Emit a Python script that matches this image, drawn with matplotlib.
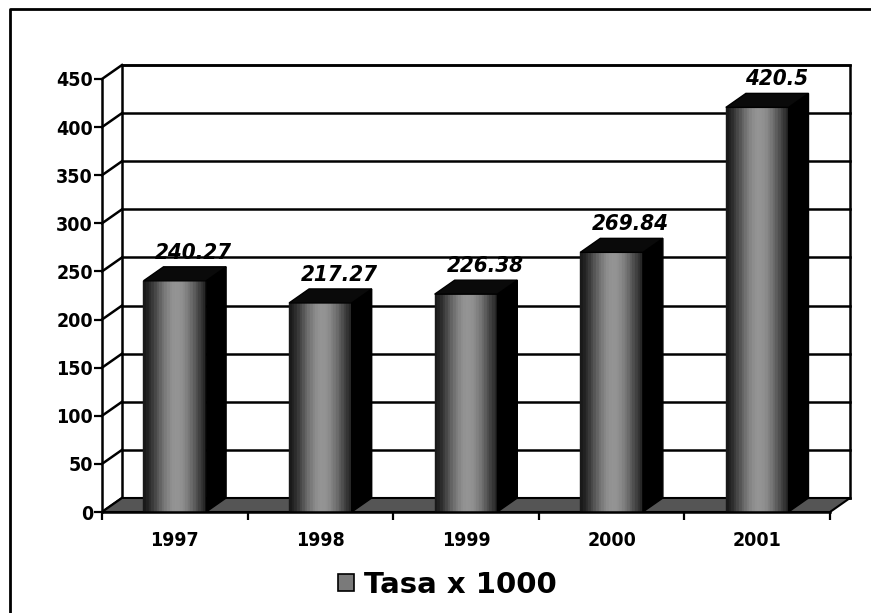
import matplotlib
matplotlib.use('Agg')
import matplotlib.pyplot as plt
import numpy as np
from matplotlib.patches import Polygon, Rectangle
from matplotlib.collections import PolyCollection
import matplotlib.transforms as mtransforms

# ---- data ----
years = ['1997', '1998', '1999', '2000', '2001']
values = [240.27, 217.27, 226.38, 269.84, 420.5]
value_labels = ['240.27', '217.27', '226.38', '269.84', '420.5']
yticks = list(range(0, 451, 50))
legend_label = 'Tasa x 1000'

W, H = 871, 613
fig = plt.figure(figsize=(W / 100, H / 100), dpi=100)
fig.patch.set_facecolor('white')
ax = fig.add_axes([102 / W, (H - 512) / H, 728 / W, 433 / H])
ax.set_xlim(-0.5, len(years) - 0.5)
ax.set_ylim(0, 450)
ax.patch.set_visible(False)

DX, DY = 20.0, 14.0  # depth in pixels
IDT = mtransforms.IdentityTransform()
FONT = dict(family='DejaVu Sans', fontstretch='condensed')


def P(x, y, d):
    px = ax.transData.transform((x, y))
    return (px[0] + d * DX, px[1] + d * DY)


xl, xr = ax.get_xlim()
ymax = ax.get_ylim()[1]

# back wall
ax.add_patch(Polygon([P(xl, 0, 1), P(xr, 0, 1), P(xr, ymax, 1), P(xl, ymax, 1)],
                     closed=True, facecolor='white', edgecolor='black', lw=1.8,
                     transform=IDT, zorder=1, clip_on=False))
for v in yticks:
    a, b = P(xl, v, 1), P(xr, v, 1)
    ax.add_line(plt.Line2D([a[0], b[0]], [a[1], b[1]], color='black', lw=1.8,
                           transform=IDT, zorder=2, clip_on=False))
    c = P(xl, v, 0)
    ax.add_line(plt.Line2D([c[0], a[0]], [c[1], a[1]], color='black', lw=1.8,
                           transform=IDT, zorder=2, clip_on=False))
# floor
ax.add_patch(Polygon([P(xl, 0, 0), P(xr, 0, 0), P(xr, 0, 1), P(xl, 0, 1)],
                     closed=True, facecolor='#555555', edgecolor='black', lw=1.5,
                     transform=IDT, zorder=3, clip_on=False))

# bars
hw, c0 = 0.215, 0.0
d0, d1 = 0.0, 1.0
nstrip = 24
tt = (np.arange(nstrip) + 0.5) / nstrip
shade = 0.08 + 0.5 * np.sin(np.pi * (tt * 0.9 + 0.02)) ** 1.6
for i, v in enumerate(values):
    x0, x1 = i - hw + c0, i + hw + c0
    edges = np.linspace(x0, x1, nstrip + 1)
    polys = []
    for k in range(nstrip):
        polys.append([P(edges[k], 0, d0), P(edges[k + 1], 0, d0),
                      P(edges[k + 1], v, d0), P(edges[k], v, d0)])
    cols = [(s, s, s) for s in shade]
    pc = PolyCollection(polys, facecolors=cols, edgecolors=cols, linewidths=0.3,
                        transform=IDT, zorder=5, clip_on=False)
    ax.add_collection(pc)
    # side face
    ax.add_patch(Polygon([P(x1, 0, d0), P(x1, 0, d1), P(x1, v, d1), P(x1, v, d0)],
                         closed=True, facecolor='black', edgecolor='black', lw=1,
                         transform=IDT, zorder=5, clip_on=False))
    # top face
    ax.add_patch(Polygon([P(x0, v, d0), P(x1, v, d0), P(x1, v, d1), P(x0, v, d1)],
                         closed=True, facecolor='#0a0a0a', edgecolor='black', lw=1,
                         transform=IDT, zorder=6, clip_on=False))
    ax.annotate(value_labels[i], xy=(i, v), xytext=(19 * 0.72, 28 * 0.72),
                textcoords='offset points', ha='center', va='center',
                fontsize=16, fontweight='bold', style='italic', zorder=7,
                annotation_clip=False, **FONT)

# axes styling
for s in ['top', 'right']:
    ax.spines[s].set_visible(False)
for s in ['left', 'bottom']:
    ax.spines[s].set_linewidth(1.8)
    ax.spines[s].set_zorder(8)
ax.set_yticks(yticks)
ax.set_yticklabels([str(v) for v in yticks], fontsize=14, fontweight='bold', **FONT)
ax.tick_params(axis='y', length=5.5, width=1.6, pad=1)
ax.set_xticks(np.arange(-0.5, len(years), 1.0))
ax.set_xticklabels([])
ax.tick_params(axis='x', which='major', length=5.5, width=1.6)
ax.set_xticks(np.arange(len(years)), minor=True)
ax.set_xticklabels(years, minor=True, fontsize=14, fontweight='bold', **FONT)
ax.tick_params(axis='x', which='minor', length=0, pad=14)

# legend
handle = Rectangle((0, 0), 1, 1, facecolor='#7a7a7a', edgecolor='black', lw=1.2)
fig.legend([handle], [legend_label], loc='center',
           bbox_to_anchor=(447 / W, 1 - 585 / H), frameon=False,
           prop={'family': 'DejaVu Sans', 'weight': 'bold', 'size': 21},
           handlelength=0.55, handleheight=0.55, handletextpad=0.35)

# outer border (left and top edges visible)
fig.add_artist(plt.Line2D([10 / W, 10 / W, 1.01], [-0.01, 1 - 9 / H, 1 - 9 / H],
                          transform=fig.transFigure, color='black', lw=2))

fig.savefig('out.png', dpi=100)
